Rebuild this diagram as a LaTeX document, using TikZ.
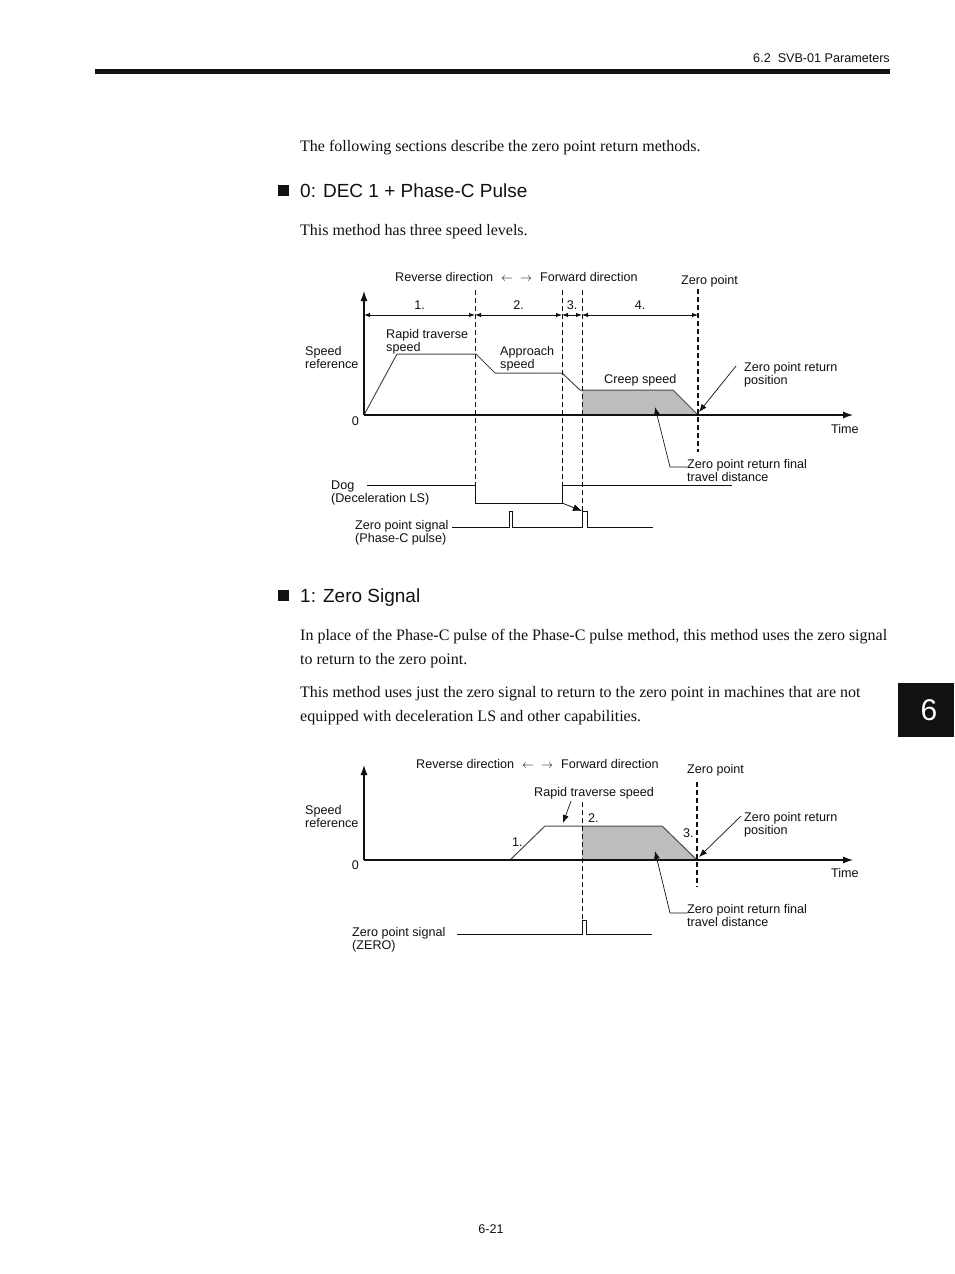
\documentclass[tikz,border=0pt]{standalone}
\usepackage{fontspec}
\setmainfont{Liberation Serif}
\newfontfamily\armfont{Liberation Sans}
\usetikzlibrary{arrows.meta,positioning}
\definecolor{ink}{HTML}{111111}
\definecolor{trace}{HTML}{4A4A4A}
\definecolor{areagray}{HTML}{BDBDC0}
\newcommand{\dirarrows}{\hspace{8pt}$\leftarrow$\hspace{7pt}$\rightarrow$\hspace{8pt}}
\tikzset{
  body/.style={anchor=base west, inner sep=0pt, font=\fontsize{16}{24}\selectfont, text=ink},
  heading/.style={anchor=base west, inner sep=0pt, font=\armfont\fontsize{19}{22}\selectfont, text=ink},
  lbl/.style={anchor=base west, inner sep=0pt, font=\armfont\fontsize{12.6}{13}\selectfont, text=ink},
  lblblock/.style={anchor=north west, inner sep=0pt, align=left, font=\armfont\fontsize{12.6}{13}\selectfont, text=ink},
  bullet/.style={fill=ink, minimum size=11pt, inner sep=0pt},
  axis/.style={-{Latex[length=10pt,width=7pt]}, draw=ink, line width=1.1pt},
  dim/.style={{Latex[length=6pt,width=4.5pt]}-{Latex[length=6pt,width=4.5pt]}, draw=ink, line width=0.9pt},
  guide/.style={draw=ink, dash pattern=on 5pt off 3pt, line width=0.8pt},
  zeroline/.style={draw=ink, dash pattern=on 5pt off 3pt, line width=2.6pt},
  profile/.style={draw=trace, line width=1pt},
  signal/.style={draw=ink, line width=1pt},
  leader/.style={-{Latex[length=8pt,width=6pt]}, draw=ink, line width=0.7pt},
}

\begin{document}
\begin{tikzpicture}[x=1pt, y=-1pt]
\useasboundingbox[fill=white] (0,0) rectangle (954,1274);

% Header and chapter tab
\node[lbl, anchor=base east] (hdr) at (890,62) {6.2\ \ SVB-01 Parameters};
\fill[ink] (95,69) rectangle (890,74);
\fill[ink] (898,683) rectangle (954,737);
\node[font=\armfont\fontsize{30}{30}\selectfont, text=white, inner sep=0pt] (tab) at (929,710) {6};
\node[lbl, anchor=base] (pgno) at (491,1233) {6-21};

% Method 0 text
\node[body] (intro) at (300,151) {The following sections describe the zero point return methods.};
\node[bullet] (sq0) at (283.5,190.5) {};
\node[heading] (h0) at (300,197) {0: DEC 1 + Phase-C Pulse};
\node[body] (p0) at (300,235) {This method has three speed levels.};

% Method 0 chart
\coordinate (o1) at (364,415);
\coordinate (y1) at (364,291);
\coordinate (t1) at (853,415);
\fill[areagray] (582,390) -- (673,390) -- (698,415) -- (582,415) -- cycle;
\draw[profile] (o1) -- (397,354) -- (476,354) -- (495,373) -- (562,373)
  -- (580,390) -- (673,390) -- (698,415);
\draw[axis] (o1) -- (y1);
\draw[axis] (o1) -- (t1);
\foreach \gx/\gy in {475/485, 562/485, 582/511}
  \draw[guide] (\gx,290) -- (\gx,\gy);
\draw[zeroline] (698,289) -- (698,452);
\foreach \xa/\xb/\k in {364/475/1, 475/562/2, 562/582/3, 582/698/4} {
  \draw[dim] (\xa,315) -- (\xb,315);
  \node[lbl, anchor=base] (seg\k) at ({(\xa+\xb)/2},309) {\k.};
}
\node[lbl] (rev1) at (395,281) {Reverse direction\dirarrows Forward direction};
\node[lbl] (zp1) at (681,284) {Zero point};
\node[lblblock] (spd1) at (305,346.5) {Speed\\reference};
\node[lblblock] (rap1) at (386,329.5) {Rapid traverse\\speed};
\node[lblblock] (app1) at (500,346.5) {Approach\\speed};
\node[lbl] (crp1) at (604,383) {Creep speed};
\node[lblblock] (ret1) at (744,362.5) {Zero point return\\position};
\node[lbl, anchor=base east] (zero1) at (359,425) {0};
\node[lbl] (time1) at (831,433) {Time};
\node[lblblock] (fin1) at (687,459.5) {Zero point return final\\travel distance};
\node[lblblock] (dog1) at (331,480.5) {Dog\\(Deceleration LS)};
\node[lblblock] (zs1) at (355,520.5) {Zero point signal\\(Phase-C pulse)};
\coordinate (ret1tip) at (699,412);
\coordinate (fin1tip) at (655,407);
\draw[leader] (736,366) -- (ret1tip);
\draw[leader] (fin1.west |- 0,467) -- (670,467) -- (fin1tip);
\draw[signal] (367,485) -- (475,485) -- (475,503) -- (562,503) -- (562,485) -- (732,485);
\draw[-{Latex[length=9pt,width=7pt]}, draw=ink, line width=0.8pt] (562,503) -- (582,511);
\draw[signal] (452,527) -- (509,527) -- (509,511) -- (512,511) -- (512,527) -- (582,527)
  -- (582,511) -- (587,511) -- (587,527) -- (653,527);

% Method 1 text
\node[bullet] (sq1) at (283.5,595.5) {};
\node[heading] (h1) at (300,602) {1: Zero Signal};
\node[body] (p1a) at (300,640) {In place of the Phase-C pulse of the Phase-C pulse method, this method uses the zero signal};
\node[body] (p1b) at (300,664) {to return to the zero point.};
\node[body] (p1c) at (300,697) {This method uses just the zero signal to return to the zero point in machines that are not};
\node[body] (p1d) at (300,721) {equipped with deceleration LS and other capabilities.};

% Method 1 chart
\coordinate (o2) at (364,860);
\coordinate (y2) at (364,765);
\coordinate (t2) at (853,860);
\fill[areagray] (582,826) -- (662,826) -- (697,860) -- (582,860) -- cycle;
\draw[profile] (510,860) -- (545,826) -- (662,826) -- (697,860);
\draw[axis] (o2) -- (y2);
\draw[axis] (o2) -- (t2);
\draw[guide] (582,802) -- (582,920);
\draw[zeroline] (697,782) -- (697,887);
\node[lbl] (rev2) at (416,768) {Reverse direction\dirarrows Forward direction};
\node[lbl] (zp2) at (687,773) {Zero point};
\node[lbl] (rap2) at (534,796) {Rapid traverse speed};
\node[lblblock] (spd2) at (305,805.5) {Speed\\reference};
\node[lbl] (st1) at (512,846) {1.};
\node[lbl] (st2) at (588,822) {2.};
\node[lbl] (st3) at (683,837) {3.};
\node[lblblock] (ret2) at (744,812.5) {Zero point return\\position};
\node[lbl, anchor=base east] (zero2) at (359,869) {0};
\node[lbl] (time2) at (831,877) {Time};
\node[lblblock] (fin2) at (687,904.5) {Zero point return final\\travel distance};
\node[lblblock] (zs2) at (352,927.5) {Zero point signal\\(ZERO)};
\coordinate (rap2tip) at (563,823);
\coordinate (ret2tip) at (699,857);
\coordinate (fin2tip) at (655,851);
\draw[leader] (571,801) -- (rap2tip);
\draw[leader] (741,816) -- (ret2tip);
\draw[leader] (fin2.west |- 0,913) -- (670,913) -- (fin2tip);
\draw[signal] (457,934) -- (582,934) -- (582,920) -- (586,920) -- (586,934) -- (652,934);

\end{tikzpicture}
\end{document}
